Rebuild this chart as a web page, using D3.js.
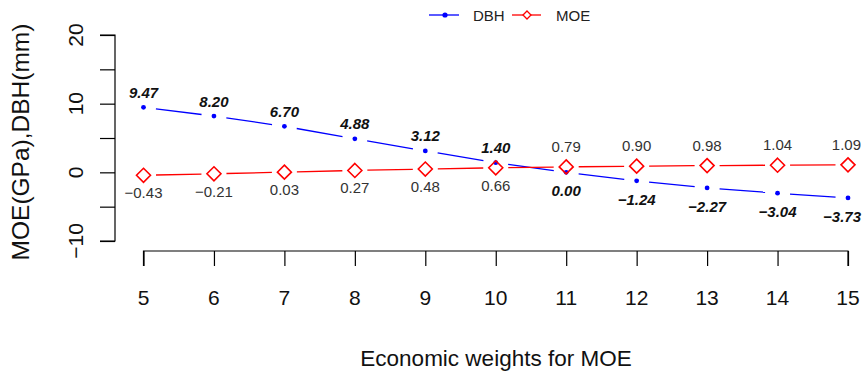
<!DOCTYPE html>
<html><head><meta charset="utf-8">
<script src="https://cdn.jsdelivr.net/npm/d3@7"></script>
<style>body{margin:0;background:#fff}svg{display:block;font-family:"Liberation Sans",Arial,Helvetica,sans-serif}</style>
</head><body><svg id="c" width="864" height="371"></svg>
<script>
const weights = [5,6,7,8,9,10,11,12,13,14,15];
const dbh = [9.47,8.20,6.70,4.88,3.12,1.40,0.00,-1.24,-2.27,-3.04,-3.73];
const moe = [-0.43,-0.21,0.03,0.27,0.48,0.66,0.79,0.90,0.98,1.04,1.09];
const yTicks = [-10,-5,0,5,10,15,20];
const yLabels = [-10,0,10,20];
const seriesNames = ["DBH","MOE"];

const svg = d3.select("#c");
const x = d3.scaleLinear().domain([5,15]).range([143.5,848]);
const y = d3.scaleLinear().domain([-10,20]).range([241,35]);
const fmt = v => (v<0?"\u2212":"") + Math.abs(v).toFixed(2);

// y axis
const ya = svg.append("g").attr("transform","translate(115,0)")
  .call(d3.axisLeft(y).tickValues(yTicks).tickSize(15).tickFormat(""));
ya.select(".domain").attr("d","M-15,"+y(20)+"H0V"+y(-10)+"H-15");
ya.selectAll("line,path").attr("stroke","#000").attr("stroke-width",1.2);
yLabels.forEach(v=>{
  svg.append("text").attr("transform",`translate(${83},${y(v)}) rotate(-90)`)
    .attr("text-anchor","middle").attr("font-size",21).attr("fill","#111").text(v<0?"\u2212"+Math.abs(v):v);
});
// x axis
const xa = svg.append("g").attr("transform","translate(0,251)")
  .call(d3.axisBottom(x).tickValues(weights).tickSize(15).tickFormat(""));
xa.select(".domain").attr("d","M"+x(5)+",15V0H"+x(15)+"V15");
xa.selectAll("line,path").attr("stroke","#000").attr("stroke-width",1.2);
weights.forEach(w=>{
  svg.append("text").attr("x",x(w)).attr("y",305).attr("text-anchor","middle")
    .attr("font-size",21).attr("fill","#111").text(w);
});
svg.append("text").attr("x",496).attr("y",366).attr("text-anchor","middle")
  .attr("font-size",22.5).attr("fill","#111").text("Economic weights for MOE");
svg.append("text").attr("transform","translate(29,142) rotate(-90)")
  .attr("text-anchor","middle").attr("font-size",24.5).attr("fill","#111").text("MOE(GPa),DBH(mm)");

// type "b" lines with gaps
function gapLines(vals,color,gap){
  for(let i=0;i<vals.length-1;i++){
    const x1=x(weights[i]),y1=y(vals[i]),x2=x(weights[i+1]),y2=y(vals[i+1]);
    const dx=x2-x1,dy=y2-y1,L=Math.hypot(dx,dy);
    if(L<=2*gap) continue;
    svg.append("line").attr("x1",x1+dx/L*gap).attr("y1",y1+dy/L*gap)
      .attr("x2",x2-dx/L*gap).attr("y2",y2-dy/L*gap)
      .attr("stroke",color).attr("stroke-width",1.3);
  }
}
gapLines(dbh,"#0000ff",12.5);
gapLines(moe,"#ff0000",12.5);
const diamond = (cx,cy,r)=>`M${cx},${cy-r}L${cx+r},${cy}L${cx},${cy+r}L${cx-r},${cy}Z`;
dbh.forEach((v,i)=>svg.append("circle").attr("cx",x(weights[i])).attr("cy",y(v)).attr("r",2.4).attr("fill","#0000ff"));
moe.forEach((v,i)=>svg.append("path").attr("d",diamond(x(weights[i]),y(v),7)).attr("fill","none").attr("stroke","#ff0000").attr("stroke-width",1.6));

// labels (kept inside the canvas)
function clampX(t){
  const w=t.node().getComputedTextLength(), cx=+t.attr("x");
  if(cx+w/2>861) t.attr("x",861-w/2);
}
dbh.forEach((v,i)=>{
  const above = i<6;
  const t=svg.append("text").attr("x",x(weights[i])).attr("y",y(v)+(above?-9.5:24))
    .attr("text-anchor","middle").attr("font-size",15).attr("font-weight","bold").attr("font-style","italic")
    .attr("fill","#111").text(fmt(v));
  clampX(t);
});
moe.forEach((v,i)=>{
  const below = i<6;
  const t=svg.append("text").attr("x",x(weights[i])).attr("y",y(v)+(below?23:-15))
    .attr("text-anchor","middle").attr("font-size",15).attr("fill","#333").text(fmt(v));
  clampX(t);
});

// legend
const lg = svg.append("g");
lg.append("line").attr("x1",429).attr("x2",459).attr("y1",15).attr("y2",15).attr("stroke","#0000ff").attr("stroke-width",1.3);
lg.append("circle").attr("cx",445).attr("cy",15).attr("r",2.6).attr("fill","#0000ff");
lg.append("text").attr("x",473).attr("y",20.5).attr("font-size",15).attr("fill","#222").text(seriesNames[0]);
lg.append("line").attr("x1",512).attr("x2",541).attr("y1",15).attr("y2",15).attr("stroke","#ff0000").attr("stroke-width",1.3);
lg.append("path").attr("d",diamond(527,15,4)).attr("fill","#fff").attr("stroke","#ff0000").attr("stroke-width",1.3);
lg.append("text").attr("x",556).attr("y",20.5).attr("font-size",15).attr("fill","#222").text(seriesNames[1]);
</script></body></html>
